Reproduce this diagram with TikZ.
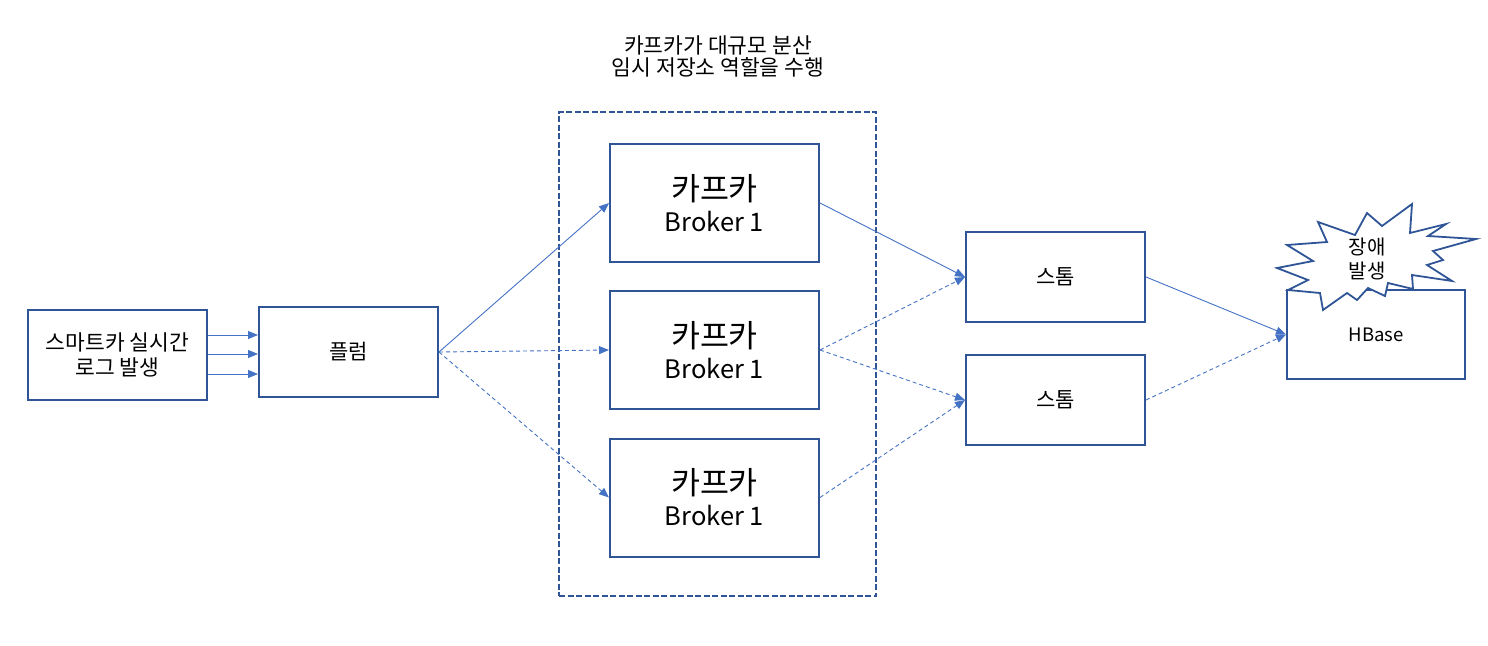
\documentclass[tikz,border=0pt]{standalone}
\usepackage{fontspec}
\setmainfont{Noto Sans CJK KR}
\usetikzlibrary{arrows.meta,calc}
\definecolor{boxblue}{HTML}{2F5597}
\definecolor{arrblue}{HTML}{4472C4}
\tikzset{
  box/.style={draw=boxblue, line width=2pt, fill=white, rectangle, inner sep=0pt, align=center},
  conn/.style={draw=arrblue, line width=0.9pt, -{Triangle[length=10pt,width=8pt]}},
  dconn/.style={conn, dash pattern=on 4pt off 3pt},
  txt/.style={font=\fontsize{21.5}{25}\selectfont},
  bigtxt/.style={font=\fontsize{31.5}{31}\selectfont},
  smtxt/.style={font=\fontsize{21}{24}\selectfont},
  latin/.style={font=\fontsize{18.5}{24}\selectfont},
}
\newcommand{\brokertext}{카프카\\{\fontsize{25.5}{31}\selectfont Broker 1}}
\begin{document}
\begin{tikzpicture}[x=1pt,y=-1pt]
\useasboundingbox (0,0) rectangle (1488,645);
% container
\node[draw=boxblue, line width=2pt, dash pattern=on 6pt off 2.5pt, minimum width=317pt, minimum height=484pt, inner sep=0pt] (cont) at (717.5,354) {};
\node[align=center, font=\fontsize{21.5}{22}\selectfont] (title) at (718,56) {카프카가 대규모 분산\\임시 저장소 역할을 수행};
% boxes
\node[box, txt, minimum width=179pt, minimum height=90pt] (sc) at (117.5,355) {스마트카 실시간\\로그 발생};
\node[box, smtxt, minimum width=179pt, minimum height=90pt] (fl) at (348.5,352) {플럼};
\node[box, bigtxt, minimum width=209pt, minimum height=118pt] (b1) at (714.5,203) {\brokertext};
\node[box, bigtxt, minimum width=209pt, minimum height=118pt] (b2) at (714.5,350) {\brokertext};
\node[box, bigtxt, minimum width=209pt, minimum height=118pt] (b3) at (714.5,497.5) {\brokertext};
\node[box, smtxt, minimum width=179pt, minimum height=90pt] (s1) at (1055.5,277) {스톰};
\node[box, smtxt, minimum width=179pt, minimum height=90pt] (s2) at (1055.5,400) {스톰};
\node[box, latin, minimum width=178pt, minimum height=89pt] (hb) at (1376,334.5) {HBase};
% burst
\draw[draw=boxblue, line width=1.8pt, fill=white, line join=miter]
 (1288,290) -- (1308,280) -- (1277,268) -- (1313,261) -- (1287,245) -- (1327,242)
 -- (1318,222) -- (1355,235) -- (1367,213) -- (1382,226) -- (1412,204) -- (1410,233)
 -- (1446,224) -- (1428,236) -- (1476,239) -- (1433,251) -- (1443,260) -- (1427,265)
 -- (1452,281) -- (1412,275) -- (1413,289) -- (1388,283) -- (1385,296) -- (1368,288)
 -- (1357,300) -- (1347,293) -- (1323,310) -- (1320,293) -- cycle;
\node[align=center, font=\fontsize{20}{24}\selectfont] (burst) at (1367,259) {장애\\발생};
% connectors
\draw[conn] ([yshift=20pt]sc.east) -- ([yshift=20pt]sc.east -| fl.west);
\draw[conn] ([yshift=1pt]sc.east) -- ([yshift=1pt]sc.east -| fl.west);
\draw[conn] ([yshift=-19pt]sc.east) -- ([yshift=-19pt]sc.east -| fl.west);
\draw[conn] (fl.east) -- (b1.west);
\draw[dconn] (fl.east) -- (b2.west);
\draw[dconn] (fl.east) -- (b3.west);
\draw[conn] (b1.east) -- (s1.west);
\draw[dconn] (b2.east) -- (s1.west);
\draw[dconn] (b2.east) -- (s2.west);
\draw[dconn] (b3.east) -- (s2.west);
\draw[conn] (s1.east) -- (hb.west);
\draw[dconn] (s2.east) -- (hb.west);
\end{tikzpicture}
\end{document}
